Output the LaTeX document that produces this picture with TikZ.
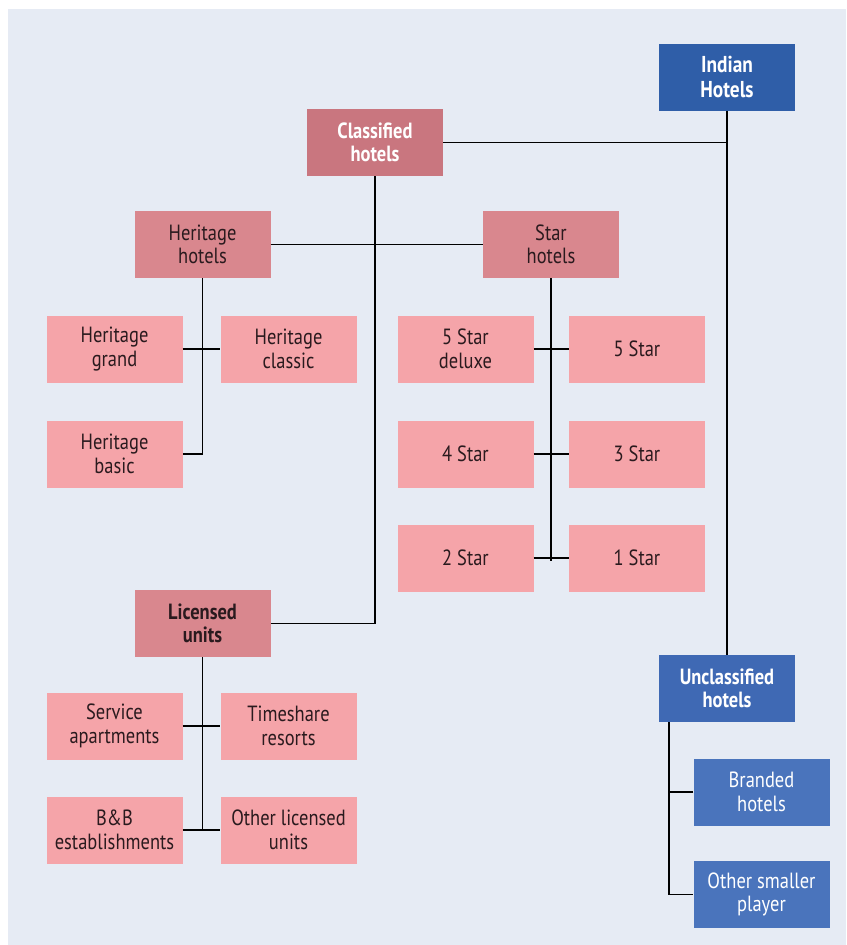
\documentclass[tikz,border=0pt]{standalone}
\usepackage{fontspec}
\setmainfont{PT Sans}[FakeStretch=0.84]
\usepackage{xcolor}
\usepackage{tikz}
\usetikzlibrary{positioning,calc}

\definecolor{pagebg}{HTML}{E6EBF4}
\definecolor{navy}{HTML}{2F5EA8}
\definecolor{midblue}{HTML}{3F69B4}
\definecolor{leafblue}{HTML}{4A74BC}
\definecolor{rosetop}{HTML}{C9767F}
\definecolor{rosemid}{HTML}{D9878E}
\definecolor{roseleaf}{HTML}{F5A4A9}
\definecolor{inkdark}{HTML}{2A1A1E}

\begin{document}
\begin{tikzpicture}[
    x=1pt, y=-1pt,
    box/.style={rectangle, minimum width=136pt, minimum height=67pt, inner sep=0pt,
      align=center, font=\fontsize{22}{23.5}\selectfont},
    bluehead/.style={box, fill=navy, text=white, font=\fontsize{23}{25}\selectfont\bfseries},
    bluesub/.style={box, fill=midblue, text=white, font=\fontsize{22}{23.5}\selectfont\bfseries},
    blueleaf/.style={box, fill=leafblue, text=white},
    rosehead/.style={box, fill=rosetop, text=white, font=\fontsize{22}{23.5}\selectfont\bfseries},
    rosesub/.style={box, fill=rosemid, text=inkdark},
    roseleaf/.style={box, fill=roseleaf, text=inkdark},
    link/.style={draw=black, line width=1.6pt}
  ]
    \useasboundingbox (0,0) rectangle (846,945);
    \fill[pagebg] (8,9) rectangle (846,945);

    % Top levels
    \node[bluehead] (indian) at (727,77) {Indian\\Hotels};
    \node[rosehead] (classified) at (375,142.5) {Classified\\hotels};
    \node[bluesub] (unclassified) at (727,688.5) {Unclassified\\hotels};

    % Classified branches
    \node[rosesub] (heritage) at (202.5,244.5) {Heritage\\hotels};
    \node[rosesub] (star) at (551,244.5) {Star\\hotels};
    \node[rosesub, font=\fontsize{22}{23.5}\selectfont\bfseries] (licensed) at (202.5,623.5) {Licensed\\units};

    % Heritage
    \node[roseleaf] (hgrand) at (114.5,349) {Heritage\\grand};
    \node[roseleaf] (hclassic) at (288.5,349) {Heritage\\classic};
    \node[roseleaf] (hbasic) at (114.5,454) {Heritage\\basic};

    % Star
    \node[roseleaf] (sdeluxe) at (465.5,349) {5 Star\\deluxe};
    \node[roseleaf] (sfive) at (637,349) {5 Star};
    \node[roseleaf] (sfour) at (465.5,454) {4 Star};
    \node[roseleaf] (sthree) at (637,454) {3 Star};
    \node[roseleaf] (stwo) at (465.5,558) {2 Star};
    \node[roseleaf] (sone) at (637,558) {1 Star};

    % Licensed
    \node[roseleaf] (service) at (114.5,726) {Service\\apartments};
    \node[roseleaf] (timeshare) at (288.5,726) {Timeshare\\resorts};
    \node[roseleaf] (bandb) at (114.5,830) {B\&B\\establishments};
    \node[roseleaf] (otherlic) at (288.5,830) {Other licensed\\units};

    % Unclassified
    \node[blueleaf] (branded) at (761.5,792) {Branded\\hotels};
    \node[blueleaf] (smaller) at (761.5,894.5) {Other smaller\\player};

    % Trunk ends
    \coordinate (hend) at (heritage.south |- hbasic.east);
    \coordinate (send) at ($(star.south |- stwo.east)+(0,3)$);
    \coordinate (lend) at (licensed.south |- bandb.east);
    \coordinate (utop) at ($(unclassified.south west)+(10,0)$);
    \coordinate (uend) at (utop |- smaller.west);

    % Connectors
    \draw[link] (indian.south) -- (unclassified.north);
    \draw[link] (classified.east) -- (indian.south |- classified.east);
    \draw[link] (classified.south) |- (licensed.east);
    \draw[link] (heritage.east) -- (star.west);

    \draw[link] (heritage.south) -- (hend) -- (hbasic.east);
    \draw[link] (hgrand.east) -- (hclassic.west);

    \draw[link] (star.south) -- (send);
    \draw[link] (sdeluxe.east) -- (sfive.west);
    \draw[link] (sfour.east) -- (sthree.west);
    \draw[link] (stwo.east) -- (sone.west);

    \draw[link] (licensed.south) -- (lend);
    \draw[link] (service.east) -- (timeshare.west);
    \draw[link] (bandb.east) -- (otherlic.west);

    \draw[link] (utop) -- (uend) -- (smaller.west);
    \draw[link] (branded.west) -- (utop |- branded.west);
  \end{tikzpicture}
\end{document}
